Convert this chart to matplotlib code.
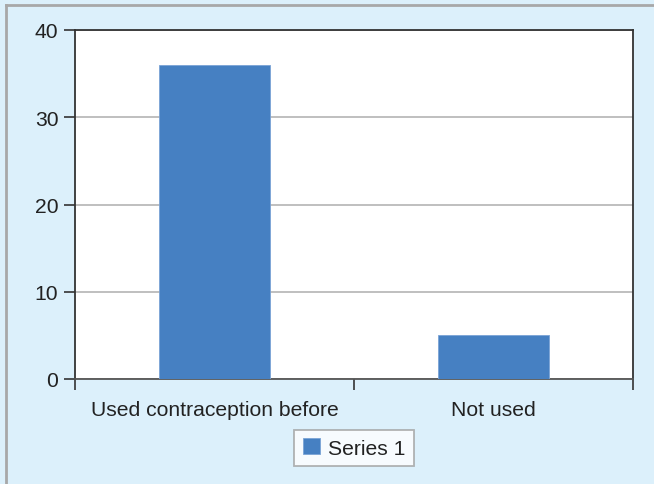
import matplotlib
matplotlib.use('Agg')
import matplotlib.pyplot as plt
from matplotlib.lines import Line2D
import numpy as np

categories = ['Used contraception before', 'Not used']
series_1 = [36, 5]
y_ticks = [0, 10, 20, 30, 40]

plt.rcParams['font.family'] = ['Liberation Sans', 'DejaVu Sans']

fig = plt.figure(figsize=(6.54, 4.85), dpi=100)
fig.patch.set_facecolor('#dcf0fb')

# grey frame on the top and left edges
fig.add_artist(Line2D([6/654, 6/654], [0, 1 - 6/485], transform=fig.transFigure, color='#a8a8a8', lw=2))
fig.add_artist(Line2D([6/654, 1], [1 - 6/485, 1 - 6/485], transform=fig.transFigure, color='#a8a8a8', lw=2))

ax = fig.add_axes([75/654, 1 - 380/485, 558/654, 349/485])
ax.set_facecolor('white')

x = np.arange(len(categories))
ax.bar(x, series_1, width=0.4, color='#4680c2', edgecolor='#7aa3d6', linewidth=0.6,
       label='Series 1', zorder=3)

ax.set_xlim(-0.5, len(categories) - 0.5)
ax.set_ylim(0, 40)
ax.set_yticks(y_ticks)
ax.yaxis.grid(True, color='#b4b4b4', lw=1.2, zorder=0)

# category labels between boundary ticks
ax.set_xticks(np.arange(len(categories) + 1) - 0.5)
ax.set_xticklabels([])
ax.set_xticks(x, minor=True)
ax.set_xticklabels(categories, minor=True, fontsize=15.2, color='#222222')
ax.tick_params(axis='x', which='minor', length=0, pad=15)
ax.tick_params(axis='x', which='major', direction='out', length=8, width=1.2, color='#333333')
ax.tick_params(axis='y', direction='out', length=8, width=1.2, color='#333333',
               labelsize=15.2, labelcolor='#222222', pad=4)

for side in ['left', 'right', 'top']:
    ax.spines[side].set_color('#333333')
    ax.spines[side].set_linewidth(1.3)
ax.spines['bottom'].set_color('#555555')
ax.spines['bottom'].set_linewidth(1.3)

leg = ax.legend(loc='center', bbox_to_anchor=(354/654, 1 - 449/485),
                bbox_transform=fig.transFigure, fontsize=15.2, frameon=True,
                fancybox=False, handlelength=0.8, handleheight=0.8,
                handletextpad=0.4, borderpad=0.4)
leg.get_frame().set_edgecolor('#a0a0a0')
leg.get_frame().set_linewidth(1.3)
for t in leg.get_texts():
    t.set_color('#222222')

fig.savefig('out.png', dpi=100, facecolor=fig.get_facecolor())
